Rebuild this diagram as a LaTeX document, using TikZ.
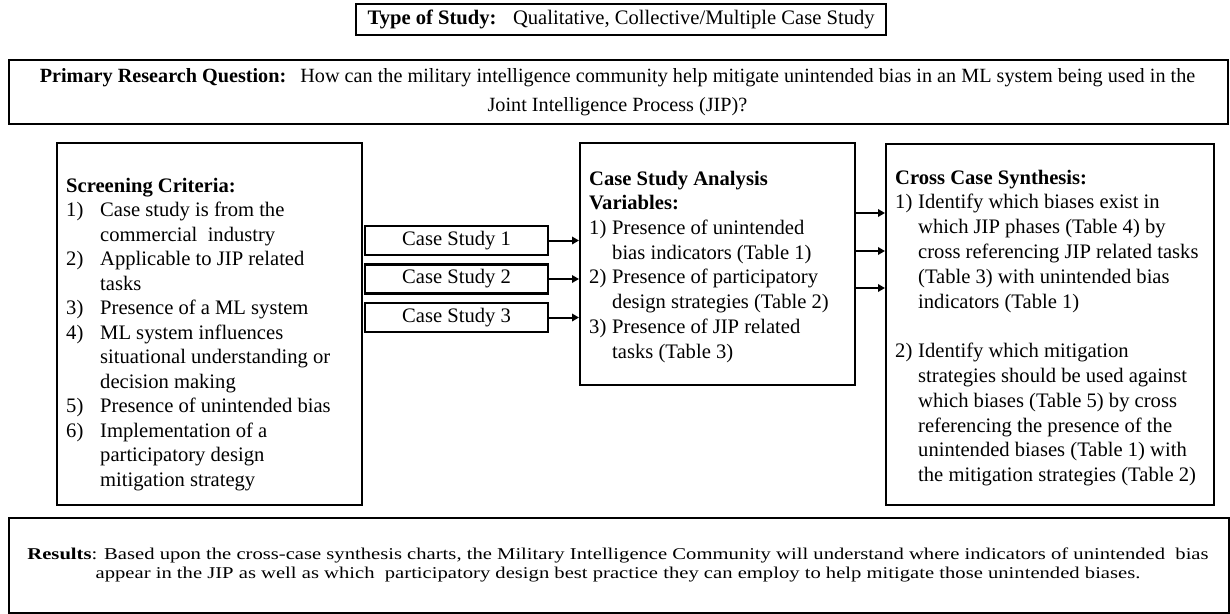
\documentclass[tikz,border=0pt]{standalone}
\usepackage{fontspec}
\setmainfont{Liberation Serif}
\newfontfamily\resfont[FakeStretch=1.25]{Liberation Serif}
\usetikzlibrary{arrows.meta}
\begin{document}
\begin{tikzpicture}[x=1pt,y=-1pt,
  box/.style={draw, line width=2.2pt, inner sep=0pt, anchor=north west},
  txt/.style={inner sep=0pt, anchor=north west, align=left},
  arr/.style={line width=2pt, -{Triangle[length=7pt,width=7.5pt]}},
  font=\fontsize{20.6}{24.5}\selectfont]
\useasboundingbox (0,0) rectangle (1230,613);

% Type of study
\node[box, minimum width=530pt, minimum height=31pt] (type) at (355,3) {};
\node[inner sep=0pt] (typetxt) at (type.center) {\textbf{Type of Study:}\hspace{0.8em}Qualitative, Collective/Multiple Case Study};

% Primary research question
\node[box, minimum width=1219pt, minimum height=64pt] (prq) at (8,59) {};
\node[inner sep=0pt, align=center, font=\fontsize{20.2}{28.5}\selectfont] (prqtxt) at (617.5,92) {\textbf{Primary Research Question:}\hspace{0.7em}How can the military intelligence community help mitigate unintended bias in an ML system being used in the\\ Joint Intelligence Process (JIP)?};

% Screening criteria
\node[box, minimum width=305pt, minimum height=362pt] (screen) at (56,142) {};
\node[txt, font=\fontsize{20.6}{24.5}\selectfont] (screentxt) at (66,175) {\strut\textbf{Screening Criteria:}\\
\makebox[34pt][l]{1)}Case study is from the\\
\hspace*{34pt}commercial\ \ industry\\
\makebox[34pt][l]{2)}Applicable to JIP related\\
\hspace*{34pt}tasks\\
\makebox[34pt][l]{3)}Presence of a ML system\\
\makebox[34pt][l]{4)}ML system influences\\
\hspace*{34pt}situational understanding or\\
\hspace*{34pt}decision making\\
\makebox[34pt][l]{5)}Presence of unintended bias\\
\makebox[34pt][l]{6)}Implementation of a\\
\hspace*{34pt}participatory design\\
\hspace*{34pt}mitigation strategy};

% Case studies
\node[box, anchor=center, minimum width=183pt, minimum height=29pt] (cs1) at (456.5,240.5) {Case Study 1};
\node[box, anchor=center, minimum width=183pt, minimum height=29pt] (cs2) at (456.5,279) {Case Study 2};
\node[box, anchor=center, minimum width=183pt, minimum height=29pt] (cs3) at (456.5,317.5) {Case Study 3};

% Case study analysis variables
\node[box, minimum width=275pt, minimum height=242pt] (mid) at (579,142) {};
\node[txt, font=\fontsize{20.6}{24.7}\selectfont] (midtxt) at (589,167.7) {\strut\textbf{Case Study Analysis}\\
\textbf{Variables:}\\
\makebox[23pt][l]{1)}Presence of unintended\\
\hspace*{23pt}bias indicators (Table 1)\\
\makebox[23pt][l]{2)}Presence of participatory\\
\hspace*{23pt}design strategies (Table 2)\\
\makebox[23pt][l]{3)}Presence of JIP related\\
\hspace*{23pt}tasks (Table 3)};

% Cross case synthesis
\node[box, minimum width=328pt, minimum height=361.5pt] (syn) at (885,142.5) {};
\node[txt, font=\fontsize{20.6}{24.8}\selectfont] (syntxt) at (895,166.6) {\strut\textbf{Cross Case Synthesis:}\\
\makebox[23pt][l]{1)}Identify which biases exist in\\
\hspace*{23pt}which JIP phases (Table 4) by\\
\hspace*{23pt}cross referencing JIP related tasks\\
\hspace*{23pt}(Table 3) with unintended bias\\
\hspace*{23pt}indicators (Table 1)\\
\strut\\
\makebox[23pt][l]{2)}Identify which mitigation\\
\hspace*{23pt}strategies should be used against\\
\hspace*{23pt}which biases (Table 5) by cross\\
\hspace*{23pt}referencing the presence of the\\
\hspace*{23pt}unintended biases (Table 1) with\\
\hspace*{23pt}the mitigation strategies (Table 2)};

% Results
\node[box, minimum width=1220pt, minimum height=95pt] (res) at (8,517) {};
\node[inner sep=0pt, align=center, font=\resfont\fontsize{16.5}{19}\selectfont] (restxt) at (618,564.5) {\textbf{Results}: Based upon the cross-case synthesis charts, the Military Intelligence Community will understand where indicators of unintended\ \ bias\\ appear in the JIP as well as which\ \ participatory design best practice they can employ to help mitigate those unintended biases.};

% Connectors
\draw[arr] (cs1.east) -- (mid.west |- cs1.east);
\draw[arr] (cs2.east) -- (mid.west |- cs2.east);
\draw[arr] (cs3.east) -- (mid.west |- cs3.east);
\draw[arr] (mid.east |- 0,213) -- (syn.west |- 0,213);
\draw[arr] (mid.east |- 0,251) -- (syn.west |- 0,251);
\draw[arr] (mid.east |- 0,288) -- (syn.west |- 0,288);
\end{tikzpicture}
\end{document}
